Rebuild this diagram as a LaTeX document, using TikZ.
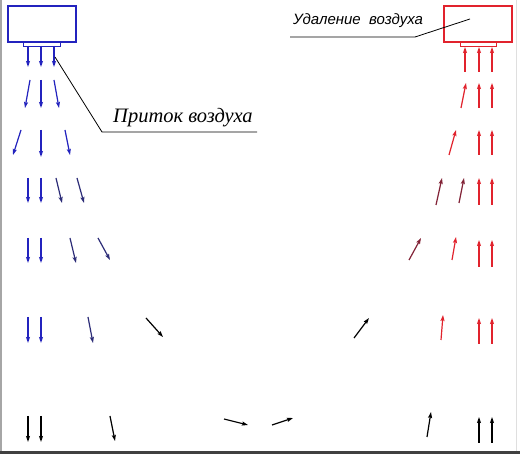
\documentclass[tikz,border=0pt]{standalone}
\usepackage{fontspec}
\setmainfont{Liberation Serif}
\newfontfamily\labsans{Liberation Sans}
\usetikzlibrary{arrows.meta}
\definecolor{sblue}{RGB}{35,35,190}
\definecolor{anavy}{RGB}{45,45,120}
\definecolor{sred}{RGB}{225,35,45}
\definecolor{dred}{RGB}{130,35,55}
\begin{document}
\begin{tikzpicture}[x=1pt,y=-1pt,
  flow/.style={line width=1.2pt,-{Stealth[length=6pt,width=4pt,inset=1pt]}},
  unitbox/.style={line width=1.8pt,minimum width=68pt,minimum height=36pt,inner sep=0pt,anchor=north west},
  grille/.style={line width=1.2pt,minimum width=37pt,minimum height=5pt,inner sep=0pt,anchor=north west},
  leader/.style={line width=0.8pt,black}]
\useasboundingbox (0,0) rectangle (520,454);
\fill[white] (0,0) rectangle (520,454);
% frame edges
\draw[gray!70,line width=1.5pt] (1,0) -- (1,454);
\draw[gray!25,line width=1pt] (516,0) -- (516,454);
\draw[black!75,line width=3pt] (0,452.5) -- (520,452.5);
% units
\node[unitbox,draw=sblue] (supply) at (7,5) {};
\node[grille,draw=sblue] (supplygr) at (23,41) {};
\node[unitbox,draw=sred] (exhaust) at (443,5) {};
\node[grille,draw=sred,minimum width=36pt] (exhaustgr) at (460,41) {};
% blue arrows
\foreach \a/\b/\c/\d in {28/46/28/67,41/46/41/67,54/46/54/67,
  30/80/25/108,41/80/41/108,54/80/59/108,
  21/130/13/155,41/130/41/157,65/130/70/155,
  28/178/28/203,41/178/41/203,28/238/28/263,41/238/41/263,
  28/317/28/343,41/317/41/343}
  \draw[flow,sblue] (\a,\b) -- (\c,\d);
\foreach \a/\b/\c/\d in {56/178/62/203,77/178/84/203,70/238/76/263,98/238/110/260,88/317/93/343}
  \draw[flow,anavy] (\a,\b) -- (\c,\d);
% black arrows
\foreach \a/\b/\c/\d in {146/318/163/337,354/338/369/318,
  28/416/28/442,41/416/41/442,110/416/115/441,224/419/248/425,272/425/293/418,
  427/437/431/412,479/443/479/417,492/443/492/417}
  \draw[flow,black] (\a,\b) -- (\c,\d);
% red arrows
\foreach \a/\b/\c/\d in {465/72/465/47,479/72/479/47,492/72/492/47,
  461/108/466/83,479/108/479/83,492/108/492/83,
  449/155/456/130,479/155/479/130,492/155/492/130,
  479/205/479/178,492/205/492/178,
  452/260/456/237,479/267/479/240,492/267/492/240,
  441/340/443/315,479/344/479/318,492/344/492/318}
  \draw[flow,sred] (\a,\b) -- (\c,\d);
\foreach \a/\b/\c/\d in {436/205/442/178,459/203/464/178,409/260/421/238}
  \draw[flow,dred] (\a,\b) -- (\c,\d);
% labels
\node[anchor=base west,inner sep=0pt,font=\fontsize{20.5}{24}\selectfont\itshape] (pritok) at (113,123) {Приток воздуха};
\coordinate (pk) at (55,57);
\coordinate (pbend) at (102,132);
\coordinate (pend) at (257,132);
\draw[leader] (pk) -- (pbend) -- (pend);
\node[anchor=base west,inner sep=0pt,font=\labsans\fontsize{15}{18}\selectfont\itshape] (udal) at (293,25) {Удаление\ \ воздуха};
\coordinate (uend) at (290,37);
\coordinate (ubend) at (415,37);
\coordinate (uin) at (470,19);
\draw[leader] (uend) -- (ubend) -- (uin);
\end{tikzpicture}
\end{document}
